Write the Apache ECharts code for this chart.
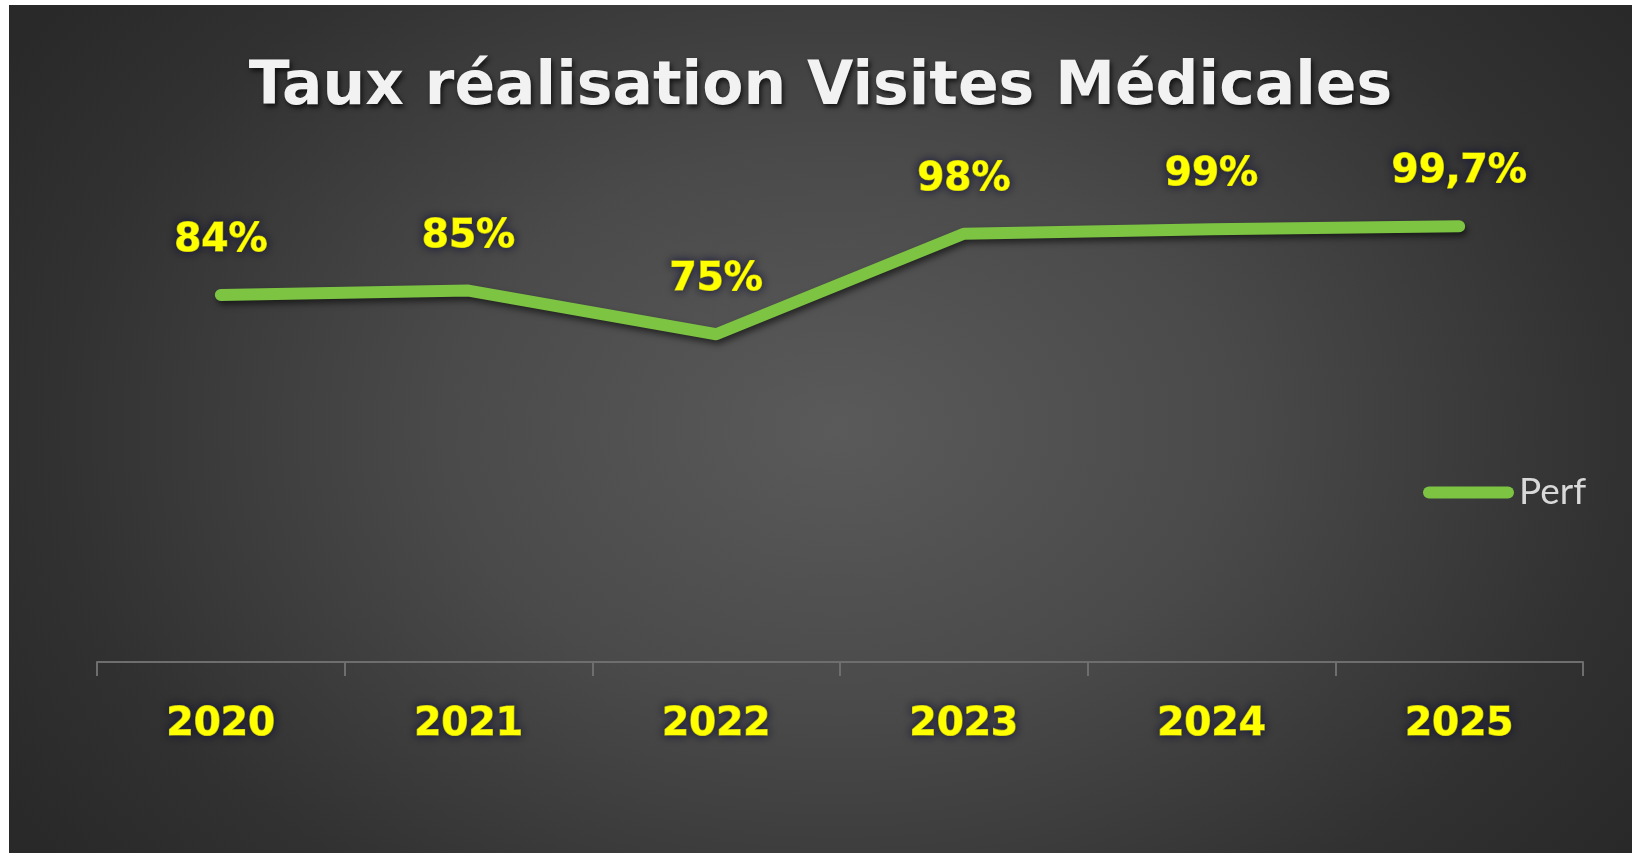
<!doctype html>
<html lang="fr">
<head>
<meta charset="UTF-8">
<title>Taux réalisation Visites Médicales</title>
<style>
  html, body { margin: 0; padding: 0; background: #ffffff; }
  #chart {
    position: absolute; left: 9px; top: 5px; width: 1623px; height: 848px;
    background: radial-gradient(980px 700px at 51% 50%, #5a5a5a 0%, #4a4a4a 40%, #313131 80%, #292929 100%);
  }
</style>
</head>
<body>
<div id="chart"></div>
<script src="https://cdn.jsdelivr.net/npm/echarts@6/dist/echarts.min.js"></script>
<script>
  // données
  var years = ['2020', '2021', '2022', '2023', '2024', '2025'];
  var perf = [84, 85, 75, 98, 99, 99.7];
  var perfLabels = ['84%', '85%', '75%', '98%', '99%', '99,7%'];

  var chart = echarts.init(document.getElementById('chart'));

  // style commun des étiquettes jaunes
  var yellowText = {
    color: '#ffff00',
    fontFamily: 'DejaVu Sans',
    fontWeight: 'bold',
    fontSize: 39,
    textBorderColor: '#ffff00',
    textBorderWidth: 1.2,
    textShadowColor: 'rgba(20,20,60,0.9)',
    textShadowBlur: 8
  };

  var option = {
    backgroundColor: 'transparent',
    animation: false,
    title: {
      text: 'Taux réalisation Visites Médicales',
      left: 'center',
      top: 48,
      textStyle: {
        color: '#f2f2f2',
        fontFamily: 'DejaVu Sans',
        fontWeight: 'bold',
        fontSize: 60,
        textShadowColor: 'rgba(0,0,0,0.7)',
        textShadowBlur: 5,
        textShadowOffsetX: 2,
        textShadowOffsetY: 3
      }
    },
    legend: {
      data: [{
        name: 'Perf',
        icon: 'path://M6,0 H85 A6,6 0 0 1 85,12 H6 A6,6 0 0 1 6,0 Z'
      }],
      left: 1414,
      top: 469,
      padding: 0,
      itemWidth: 91,
      itemHeight: 12,
      textStyle: {
        color: '#d9d9d9',
        fontFamily: 'Lato',
        fontSize: 37
      }
    },
    grid: {
      left: 88,
      right: 49,
      top: 220,
      bottom: 191,
      containLabel: false
    },
    xAxis: {
      type: 'category',
      data: years,
      boundaryGap: true,
      axisLine: { lineStyle: { color: '#6e6e6e', width: 2 } },
      axisTick: { show: true, length: 14, lineStyle: { color: '#6e6e6e', width: 2 } },
      axisLabel: Object.assign({ margin: 43 }, yellowText)
    },
    yAxis: {
      type: 'value',
      min: 0,
      max: 100,
      show: false,
      splitLine: { show: false }
    },
    series: [{
      name: 'Perf',
      type: 'line',
      data: perf,
      symbol: 'circle',
      symbolSize: 1,
      itemStyle: { color: '#7dc443' },
      lineStyle: {
        color: '#7dc443',
        width: 12,
        cap: 'round',
        join: 'round',
        shadowColor: 'rgba(0,0,0,0.55)',
        shadowBlur: 6,
        shadowOffsetX: 2,
        shadowOffsetY: 4
      },
      label: Object.assign({
        show: true,
        position: 'top',
        distance: 34,
        formatter: function (p) { return perfLabels[p.dataIndex]; }
      }, yellowText)
    }]
  };

  chart.setOption(option);
</script>
</body>
</html>
